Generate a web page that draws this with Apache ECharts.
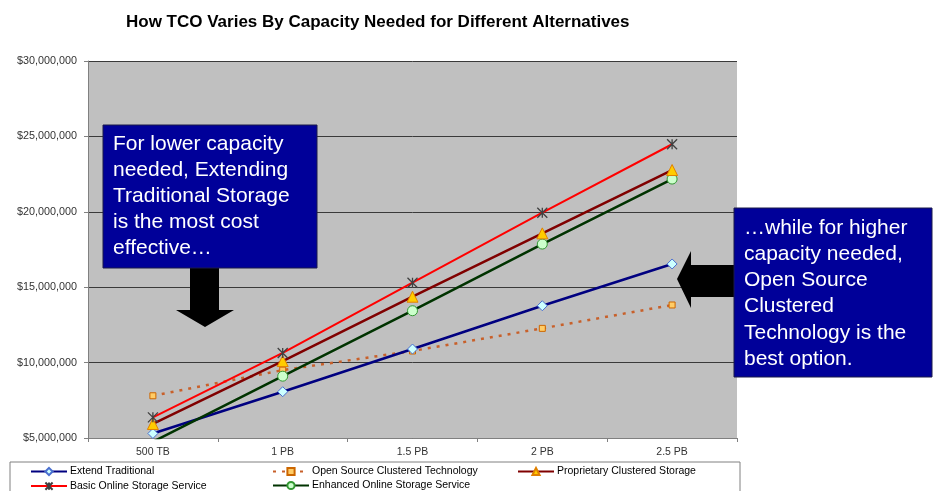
<!DOCTYPE html>
<html>
<head>
<meta charset="utf-8">
<script src="https://cdn.jsdelivr.net/npm/echarts@6/dist/echarts.min.js"></script>
<style>
  html, body { margin: 0; padding: 0; background: #ffffff; }
  #chart { width: 935px; height: 491px; }
</style>
</head>
<body>
<div id="chart"></div>
<script>
// Capacity tiers on the x axis
const capacities = ['500 TB', '1 PB', '1.5 PB', '2 PB', '2.5 PB'];

// Total cost of ownership (USD) per alternative
const extendTraditional = [5300000, 8070000, 10900000, 13770000, 16540000];
const openSourceClustered = [7800000, 9500000, 10770000, 12270000, 13820000];
const proprietaryClustered = [5930000, 10100000, 14370000, 18570000, 22770000];
const basicOnline = [6370000, 10640000, 15300000, 19940000, 24480000];
const enhancedOnline = [4750000, 9100000, 13440000, 17860000, 22170000];

// Value axis ticks
const yMin = 5000000;
const yMax = 30000000;
const yStep = 5000000;

const FONT = 'Liberation Sans, Arial, Helvetica, sans-serif';

const chart = echarts.init(document.getElementById('chart'), null, { renderer: 'canvas' });

const dollars = v => '$' + Math.round(v).toLocaleString('en-US');

const legendBase = {
  orient: 'horizontal',
  padding: 0,
  itemGap: 0,
  itemWidth: 36,
  itemHeight: 9,
  selectedMode: false,
  textStyle: { fontFamily: FONT, fontSize: 10.5, color: '#000000', padding: [0, 0, 0, -2] }
};

const asterisk = 'path://M0,0L10,10M10,0L0,10M5,0L5,10';

const option = {
  animation: false,
  backgroundColor: '#ffffff',
  title: {
    text: 'How TCO Varies By Capacity Needed for Different Alternatives',
    left: 121,
    top: 9,
    textStyle: { fontFamily: FONT, fontSize: 17, fontWeight: 'bold', color: '#000000' }
  },
  grid: {
    left: 88,
    right: 198,
    top: 61,
    bottom: 53,
    show: true,
    backgroundColor: '#c0c0c0',
    borderWidth: 0,
    containLabel: false,
    outerBoundsMode: 'none'
  },
  legend: [
    Object.assign({}, legendBase, { data: ['Extend Traditional'], left: 30, top: 466 }),
    Object.assign({}, legendBase, { data: ['Open Source Clustered Technology'], left: 272, top: 466 }),
    Object.assign({}, legendBase, { data: ['Proprietary Clustered Storage'], left: 517, top: 466 }),
    Object.assign({}, legendBase, { data: ['Basic Online Storage Service'], left: 30, top: 480 }),
    Object.assign({}, legendBase, { data: ['Enhanced Online Storage Service'], left: 272, top: 480 })
  ],
  xAxis: {
    type: 'category',
    data: capacities,
    boundaryGap: true,
    axisLine: { show: true, lineStyle: { color: '#808080', width: 1 } },
    axisTick: { show: true, length: 4, inside: false, lineStyle: { color: '#808080' } },
    axisLabel: { fontFamily: FONT, fontSize: 10.5, color: '#333333', margin: 9 },
    splitLine: { show: false }
  },
  yAxis: {
    type: 'value',
    min: yMin,
    max: yMax,
    interval: yStep,
    axisLine: { show: true, lineStyle: { color: '#808080', width: 1 } },
    axisTick: { show: true, length: 4, lineStyle: { color: '#808080' } },
    axisLabel: { fontFamily: FONT, fontSize: 10.8, color: '#333333', margin: 11, formatter: dollars },
    splitLine: { show: true, lineStyle: { color: '#3a3a3a', width: 1 } }
  },
  series: [
    {
      name: 'Extend Traditional',
      type: 'line',
      data: extendTraditional,
      symbol: 'diamond',
      symbolSize: 10,
      lineStyle: { color: '#000080', width: 2.5 },
      itemStyle: { color: '#ccffff', borderColor: '#4a6fd0', borderWidth: 1 },
      z: 3
    },
    {
      name: 'Open Source Clustered Technology',
      type: 'line',
      data: openSourceClustered,
      symbol: 'rect',
      symbolSize: 6,
      lineStyle: { color: '#c8602a', width: 2.5, type: [3, 6] },
      itemStyle: { color: '#ffcc66', borderColor: '#cc6600', borderWidth: 1 },
      z: 2
    },
    {
      name: 'Proprietary Clustered Storage',
      type: 'line',
      data: proprietaryClustered,
      symbol: 'triangle',
      symbolSize: 11,
      lineStyle: { color: '#800000', width: 2.5 },
      itemStyle: { color: '#ffcc00', borderColor: '#e08000', borderWidth: 1 },
      z: 4
    },
    {
      name: 'Basic Online Storage Service',
      type: 'line',
      data: basicOnline,
      symbol: asterisk,
      symbolSize: 10,
      lineStyle: { color: '#ff0000', width: 2 },
      itemStyle: { color: 'none', borderColor: '#404040', borderWidth: 1.3 },
      z: 5
    },
    {
      name: 'Enhanced Online Storage Service',
      type: 'line',
      data: enhancedOnline,
      symbol: 'circle',
      symbolSize: 10,
      lineStyle: { color: '#003300', width: 2.5 },
      itemStyle: { color: '#ccffcc', borderColor: '#339933', borderWidth: 1 },
      z: 3
    }
  ],
  graphic: [
    // legend frame
    {
      type: 'rect',
      z: 0,
      silent: true,
      shape: { x: 10, y: 462, width: 730, height: 40 },
      style: { fill: '#ffffff', stroke: '#808080', lineWidth: 1 }
    },
    // left call-out with downward arrow
    {
      type: 'polygon',
      z: 100,
      shape: { points: [[190, 267], [219, 267], [219, 310], [234, 310], [205, 327], [176, 310], [190, 310]] },
      style: { fill: '#000000' }
    },
    {
      type: 'rect',
      z: 101,
      shape: { x: 103, y: 125, width: 214, height: 143 },
      style: { fill: '#000099', stroke: '#1a1a4a', lineWidth: 1 }
    },
    {
      type: 'text',
      z: 102,
      left: 113,
      top: 131,
      style: {
        text: 'For lower capacity\nneeded, Extending\nTraditional Storage\nis the most cost\neffective…',
        fill: '#ffffff',
        font: '21px ' + FONT,
        lineHeight: 26
      }
    },
    // right call-out with leftward arrow
    {
      type: 'polygon',
      z: 100,
      shape: { points: [[734, 265], [691, 265], [691, 251], [677, 279], [691, 308], [691, 297], [734, 297]] },
      style: { fill: '#000000' }
    },
    {
      type: 'rect',
      z: 101,
      shape: { x: 734, y: 208, width: 198, height: 169 },
      style: { fill: '#000099', stroke: '#1a1a4a', lineWidth: 1 }
    },
    {
      type: 'text',
      z: 102,
      left: 744,
      top: 215,
      style: {
        text: '…while for higher\ncapacity needed,\nOpen Source\nClustered\nTechnology is the\nbest option.',
        fill: '#ffffff',
        font: '21px ' + FONT,
        lineHeight: 26.2
      }
    }
  ]
};

chart.setOption(option);
</script>
</body>
</html>
